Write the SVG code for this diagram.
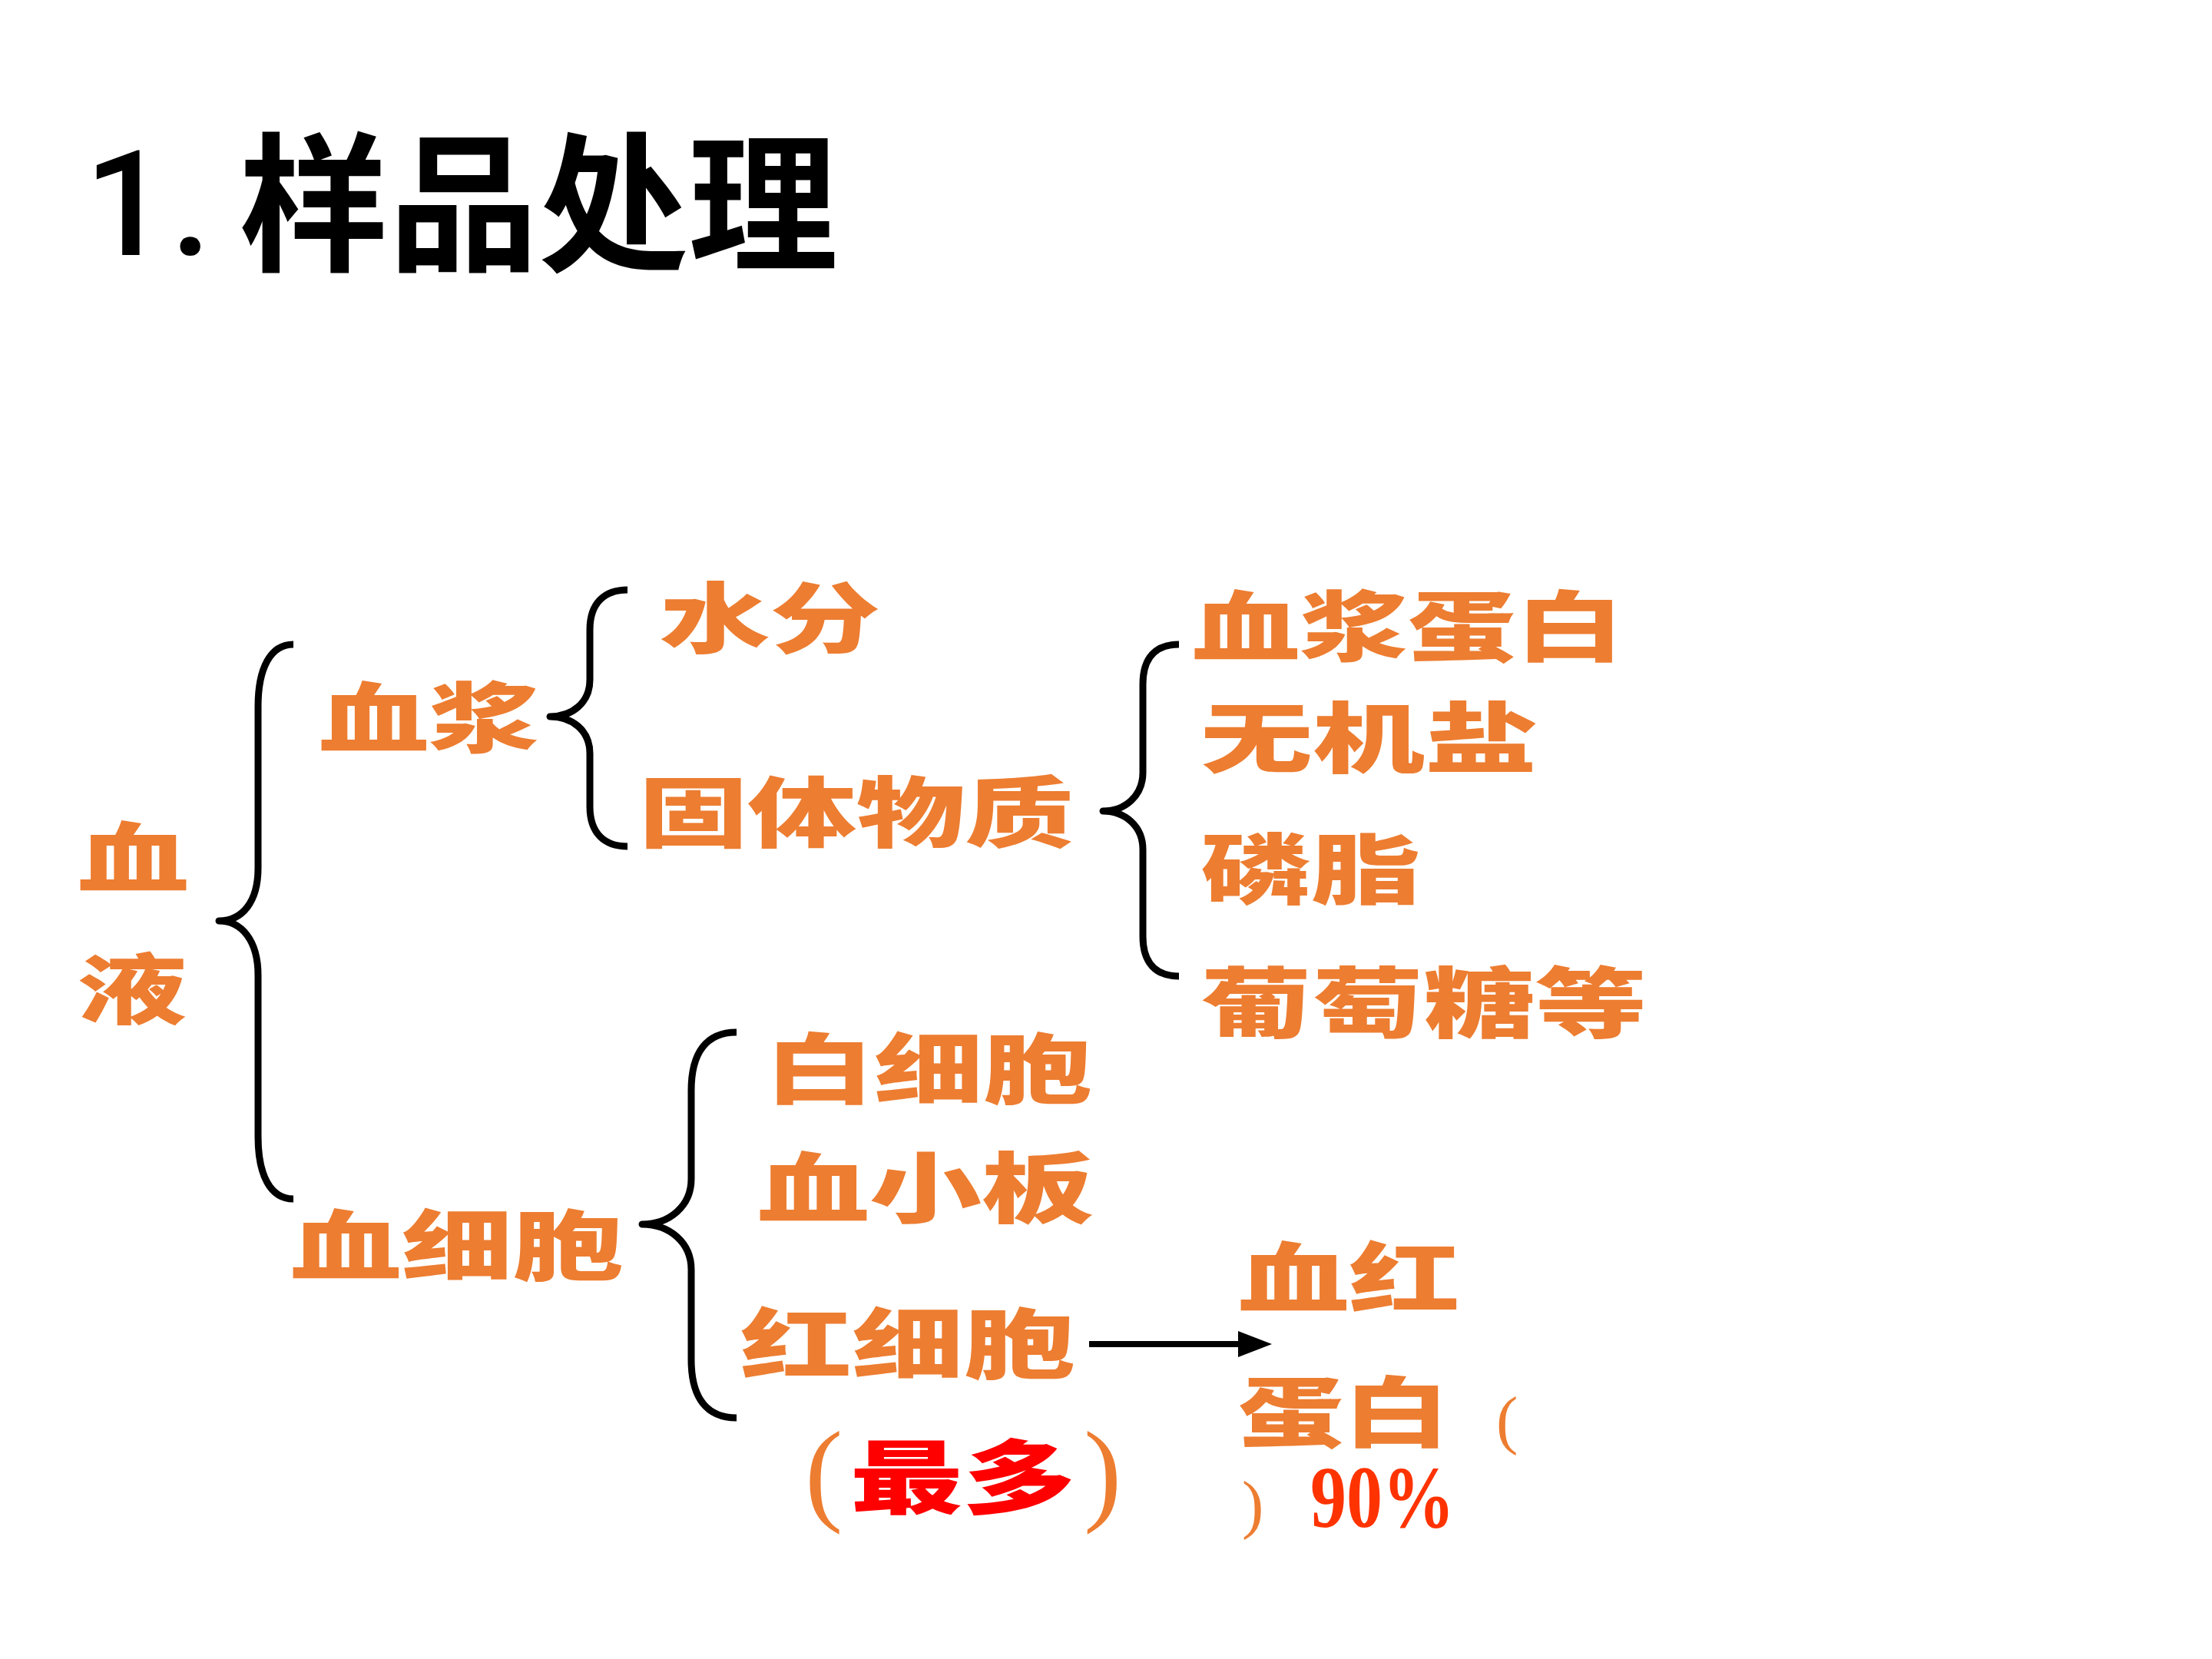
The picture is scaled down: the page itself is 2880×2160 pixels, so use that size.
<svg xmlns="http://www.w3.org/2000/svg" width="2880" height="2160" viewBox="0 0 2880 2160">
<defs>
<style>
.t{font-family:"Noto Sans CJK SC","Noto Sans CJK JP",sans-serif;font-weight:900;font-size:100px;fill:#ED7D31}
.red{fill:#FF0000;font-size:105px}
.par{font-family:"Liberation Serif","Noto Sans CJK SC",serif;fill:#ED7D31}
.pct{font-family:"Liberation Serif",serif;font-weight:bold;font-size:115px;fill:#FF3300}
.brace{fill:none;stroke:#000;stroke-width:9;stroke-linejoin:round;stroke-linecap:butt}
.cjk{font-family:"Noto Sans CJK SC",sans-serif;font-size:195px;font-weight:bold;fill:#000}
.num{font-family:Roboto,"Open Sans",sans-serif;font-size:191px;font-weight:500;fill:#000}
</style>
<marker id="ah" markerUnits="userSpaceOnUse" markerWidth="44" markerHeight="34" refX="2" refY="17" orient="auto">
<path d="M0 0 L44 17 L0 34 Z" fill="#000"/>
</marker>
</defs>
<rect width="2880" height="2160" fill="#fff"/>
<g id="title">
<text class="num" y="332"><tspan x="110">1</tspan><tspan x="222">.</tspan></text>
<text class="cjk" x="311" y="338">样品处理</text>
</g>
<g id="connectors">
<path class="brace" d="M 382 839 C 352 839, 336 870, 336 920 L 336 1130 C 336 1175, 315 1199, 285 1199 C 315 1199, 336 1225, 336 1270 L 336 1480 C 336 1530, 352 1561, 382 1561"/>
<path class="brace" d="M 817 768 C 787 768, 768 785, 768 820 L 768 885 C 768 915, 745 933, 716 933 C 745 933, 768 951, 768 981 L 768 1050 C 768 1085, 787 1102, 817 1102"/>
<path class="brace" d="M 1535 839 C 1505 839, 1488 856, 1488 891 L 1488 1006 C 1488 1036, 1465 1056, 1436 1056 C 1465 1056, 1488 1076, 1488 1106 L 1488 1219 C 1488 1254, 1505 1271, 1535 1271"/>
<path class="brace" d="M 959 1344 C 920 1344, 900 1370, 900 1420 L 900 1535 C 900 1570, 872 1594, 836 1594 C 872 1594, 900 1618, 900 1653 L 900 1770 C 900 1820, 920 1846, 959 1846"/>
<line x1="1418" y1="1750" x2="1614" y2="1750" stroke="#000" stroke-width="8" marker-end="url(#ah)"/>
</g>
<g id="node-blood">
<text class="t" x="101" y="1154" textLength="145" lengthAdjust="spacingAndGlyphs">血</text>
<text class="t" x="101" y="1325" textLength="142" lengthAdjust="spacingAndGlyphs">液</text>
</g>
<g id="node-plasma"><text class="t" x="415" y="972" textLength="287" lengthAdjust="spacingAndGlyphs">血浆</text></g>
<g id="node-water"><text class="t" x="859" y="842" textLength="287" lengthAdjust="spacingAndGlyphs">水分</text></g>
<g id="node-solids"><text class="t" x="832" y="1095" textLength="566" lengthAdjust="spacingAndGlyphs">固体物质</text></g>
<g id="node-plasma-protein"><text class="t" x="1552" y="853" textLength="562" lengthAdjust="spacingAndGlyphs">血浆蛋白</text></g>
<g id="node-salt"><text class="t" x="1563" y="998" textLength="438" lengthAdjust="spacingAndGlyphs">无机盐</text></g>
<g id="node-phospholipid"><text class="t" x="1563" y="1169" textLength="287" lengthAdjust="spacingAndGlyphs">磷脂</text></g>
<g id="node-glucose"><text class="t" x="1563" y="1343" textLength="581" lengthAdjust="spacingAndGlyphs">葡萄糖等</text></g>
<g id="node-blood-cells"><text class="t" x="378" y="1659" textLength="434" lengthAdjust="spacingAndGlyphs">血细胞</text></g>
<g id="node-wbc"><text class="t" x="996" y="1429" textLength="426" lengthAdjust="spacingAndGlyphs">白细胞</text></g>
<g id="node-platelet"><text class="t" x="986" y="1584" textLength="438" lengthAdjust="spacingAndGlyphs">血小板</text></g>
<g id="node-rbc">
<text class="t" x="964" y="1787" textLength="436" lengthAdjust="spacingAndGlyphs">红细胞</text>
<text class="par" x="1048" y="1966" font-size="148">(</text>
<text class="t red" x="1107" y="1962" textLength="293" lengthAdjust="spacingAndGlyphs">最多</text>
<text class="par" x="1411" y="1966" font-size="148">)</text>
</g>
<g id="node-hemoglobin">
<text class="t" x="1612" y="1701" textLength="289" lengthAdjust="spacingAndGlyphs">血红</text>
<text class="t" x="1612" y="1876" textLength="275" lengthAdjust="spacingAndGlyphs">蛋白</text>
<text class="par" x="1948" y="1877" font-size="85">(</text>
<text class="par" x="1617" y="1987" font-size="85">)</text>
<text class="pct" x="1706" y="1988" textLength="188" lengthAdjust="spacingAndGlyphs">90%</text>
</g>
</svg>
